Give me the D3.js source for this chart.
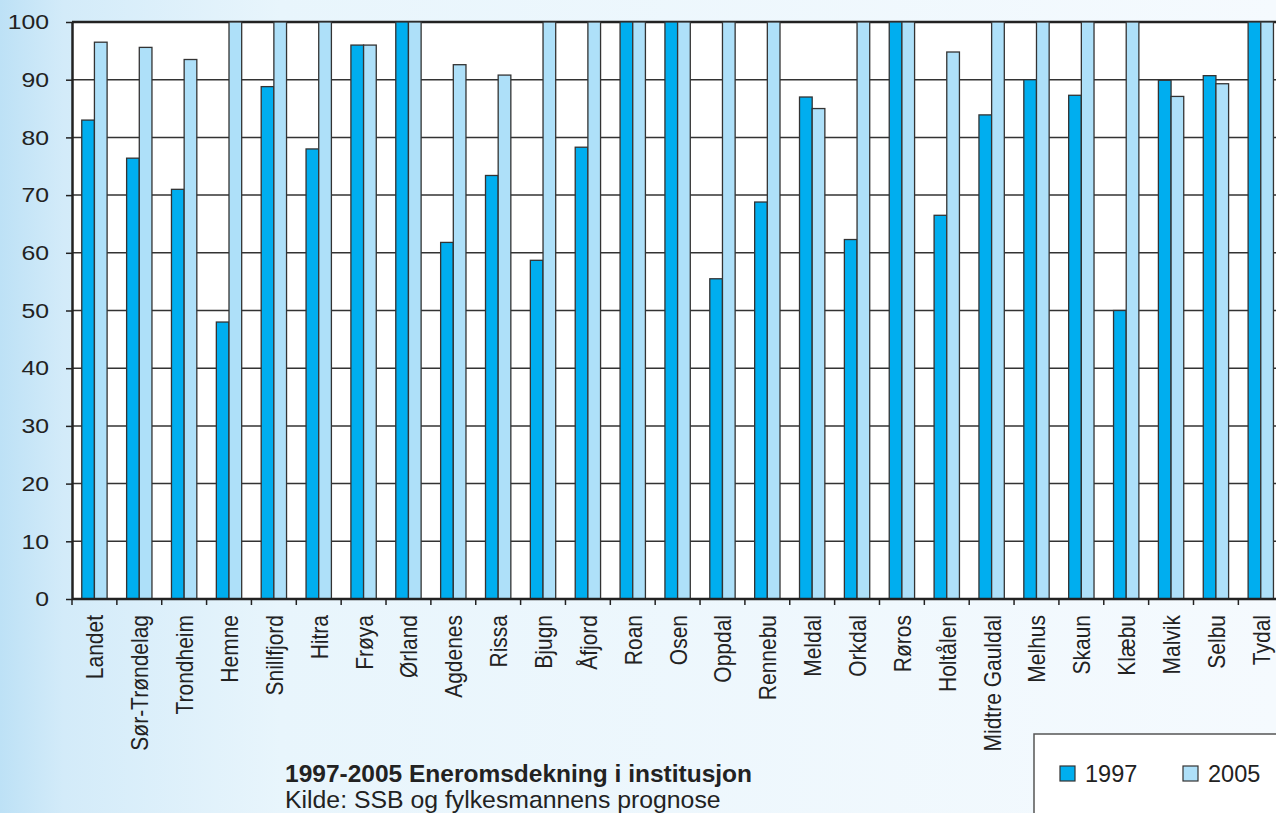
<!DOCTYPE html>
<html>
<head>
<meta charset="utf-8">
<script src="https://cdn.jsdelivr.net/npm/d3@7"></script>
<style>
  html, body { margin: 0; padding: 0; overflow: hidden; }
  body { width: 1276px; height: 813px; }
  text { font-family: "Liberation Sans", Arial, sans-serif; fill: #222; }
</style>
</head>
<body>
<div id="chart"></div>
<script>
// Data
const categories = ["Landet", "Sør-Trøndelag", "Trondheim", "Hemne", "Snillfjord", "Hitra", "Frøya",
  "Ørland", "Agdenes", "Rissa", "Bjugn", "Åfjord", "Roan", "Osen", "Oppdal", "Rennebu", "Meldal",
  "Orkdal", "Røros", "Holtålen", "Midtre Gauldal", "Melhus", "Skaun", "Klæbu", "Malvik", "Selbu", "Tydal"];
const seriesNames = ["1997", "2005"];
const values1997 = [83, 76.4, 71, 48, 88.8, 78, 96, 100, 61.8, 73.4, 58.7, 78.3, 100, 100, 55.5, 68.8, 87,
  62.3, 100, 66.5, 83.9, 90, 87.3, 50, 89.9, 90.7, 100];
const values2005 = [96.5, 95.6, 93.5, 100, 100, 100, 96, 100, 92.6, 90.8, 100, 100, 100, 100, 100, 100, 85,
  100, 100, 94.8, 100, 100, 100, 100, 87.1, 89.3, 100];
const yTicks = [0, 10, 20, 30, 40, 50, 60, 70, 80, 90, 100];
const titleText = "1997-2005 Eneromsdekning i institusjon";
const sourceText = "Kilde: SSB og fylkesmannens prognose";

const colors = { "1997": "#00aeef", "2005": "#aee0f9" };

const width = 1276, height = 813;
const plot = { left: 72, top: 22, bottom: 599, right: 72 + 27 * 44.86 };
const stretch = 1.18; // the axis text in the original is a bit wide

const svg = d3.select("#chart").append("svg")
  .attr("width", width)
  .attr("height", height);

// Soft blue page background
const defs = svg.append("defs");
const bg = defs.append("linearGradient").attr("id", "bg").attr("x1", 0).attr("x2", 1).attr("y1", 0).attr("y2", 0);
bg.append("stop").attr("offset", "0%").attr("stop-color", "#bde1f6");
bg.append("stop").attr("offset", "5%").attr("stop-color", "#d3ebf9");
bg.append("stop").attr("offset", "22%").attr("stop-color", "#e8f5fc");
bg.append("stop").attr("offset", "100%").attr("stop-color", "#f5fafe");
svg.append("rect").attr("width", width).attr("height", height).attr("fill", "url(#bg)");

// Scales
const x = d3.scaleBand().domain(categories).range([plot.left, plot.right]);
const xInner = d3.scaleBand().domain(seriesNames).range([0, x.bandwidth()]).paddingOuter(0.77);
const y = d3.scaleLinear().domain([0, 100]).range([plot.bottom, plot.top]);

// Plot area
svg.append("rect")
  .attr("x", plot.left).attr("y", plot.top)
  .attr("width", plot.right - plot.left).attr("height", plot.bottom - plot.top)
  .attr("fill", "#fff");

// Gridlines
svg.append("g")
  .selectAll("line")
  .data(yTicks.filter(d => d > 0))
  .join("line")
  .attr("x1", plot.left).attr("x2", plot.right)
  .attr("y1", d => y(d)).attr("y2", d => y(d))
  .attr("stroke", d => d === 100 ? "#222" : "#333")
  .attr("stroke-width", d => d === 100 ? 2.5 : 1.5);

// Bars
const data = categories.map((c, i) => ({ cat: c, v: { "1997": values1997[i], "2005": values2005[i] } }));
const groups = svg.append("g").selectAll("g")
  .data(data)
  .join("g")
  .attr("transform", d => `translate(${x(d.cat)},0)`);

groups.selectAll("rect")
  .data(d => seriesNames.map(s => ({ s, v: d.v[s] })))
  .join("rect")
  .attr("x", d => xInner(d.s))
  .attr("y", d => y(d.v))
  .attr("width", xInner.bandwidth())
  .attr("height", d => y(0) - y(d.v))
  .attr("fill", d => colors[d.s])
  .attr("stroke", "#333")
  .attr("stroke-width", 1.3);

// Y axis
const yAxis = d3.axisLeft(y).tickValues(yTicks).tickSize(6).tickSizeOuter(0).tickPadding(17);
const yG = svg.append("g").attr("transform", `translate(${plot.left},0)`).call(yAxis);
yG.select(".domain").attr("stroke", "#222").attr("stroke-width", 2.5);
yG.selectAll(".tick line").attr("stroke", "#222").attr("stroke-width", 1.5);
yG.selectAll(".tick text")
  .attr("x", -23 / stretch)
  .attr("transform", `scale(${stretch},1)`)
  .style("font-size", "21px").attr("fill", "#222")
  .style("font-family", "'Liberation Sans', Arial, sans-serif");

// X axis: ticks at category boundaries
const xG = svg.append("g");
xG.append("line")
  .attr("x1", plot.left).attr("x2", plot.right)
  .attr("y1", plot.bottom).attr("y2", plot.bottom)
  .attr("stroke", "#222").attr("stroke-width", 2.5);
xG.selectAll(".xtick")
  .data(categories)
  .join("line")
  .attr("class", "xtick")
  .attr("x1", d => x(d)).attr("x2", d => x(d))
  .attr("y1", plot.bottom).attr("y2", plot.bottom + 6)
  .attr("stroke", "#222").attr("stroke-width", 1.5);
xG.selectAll(".xlabel")
  .data(categories)
  .join("text")
  .attr("class", "xlabel")
  .attr("transform", d => `translate(${x(d) + x.bandwidth() / 2 + 9},${plot.bottom + 16}) rotate(-90) scale(1,${stretch})`)
  .attr("text-anchor", "end")
  .style("font-size", "21px")
  .text(d => d);

// Title & source
svg.append("text")
  .attr("x", 285).attr("y", 782)
  .style("font-size", "24.5px").style("font-weight", "bold")
  .text(titleText);
svg.append("text")
  .attr("x", 285).attr("y", 808)
  .style("font-size", "24.8px")
  .text(sourceText);

// Legend
const legend = svg.append("g");
legend.append("rect")
  .attr("x", 1034).attr("y", 734)
  .attr("width", 300).attr("height", 120)
  .attr("fill", "#fff").attr("stroke", "#555").attr("stroke-width", 1.5);
const items = legend.selectAll(".item")
  .data(seriesNames)
  .join("g")
  .attr("class", "item")
  .attr("transform", (d, i) => `translate(${1060 + i * 123},766)`);
items.append("rect")
  .attr("width", 15).attr("height", 15)
  .attr("fill", d => colors[d]).attr("stroke", "#333").attr("stroke-width", 1.2);
items.append("text")
  .attr("x", 25).attr("y", 16)
  .style("font-size", "23.5px")
  .text(d => d);
</script>
</body>
</html>
